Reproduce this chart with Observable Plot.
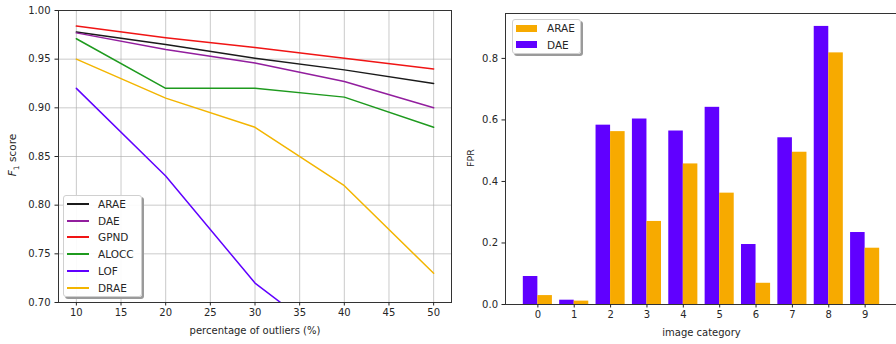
<!DOCTYPE html>
<html>
<head>
<meta charset="utf-8">
<script src="https://cdn.jsdelivr.net/npm/d3@7"></script>
<script src="https://cdn.jsdelivr.net/npm/@observablehq/plot@0.6"></script>
<style>
  html, body { margin: 0; padding: 0; background: #fff; }
  #wrap { position: relative; width: 896px; height: 344px; overflow: hidden; font-family: "DejaVu Sans", sans-serif; }
  #left, #right { position: absolute; top: 0; height: 344px; }
  #left { left: 0; width: 460px; }
  #right { left: 460px; width: 437px; }
  #wrap svg { max-width: none !important; display: block; }
  .legend { position: absolute; background: rgba(255,255,255,0.9); border: 1px solid #d0d0d0; border-radius: 3px; box-shadow: 2px 2px 0 #9a9a9a; font-size: 10.5px; color: #262626; box-sizing: border-box; }
  .legend .row { position: absolute; left: 0; display: flex; align-items: center; height: 14px; }
  .legend .sw { display: inline-block; }
</style>
</head>
<body>
<div id="wrap">
  <div id="left"></div>
  <div id="right"></div>
</div>
<script>
// ---- Left chart data (F1 score vs percentage of outliers) ----
const pct = [10, 20, 30, 40, 50];
const methods = ["ARAE", "DAE", "GPND", "ALOCC", "LOF", "DRAE"];
const f1ARAE  = [0.978, 0.965, 0.951, 0.939, 0.925];
const f1DAE   = [0.977, 0.960, 0.946, 0.927, 0.900];
const f1GPND  = [0.984, 0.972, 0.962, 0.951, 0.940];
const f1ALOCC = [0.971, 0.920, 0.920, 0.911, 0.880];
const f1LOF   = [0.920, 0.830, 0.720, 0.650, 0.600];
const f1DRAE  = [0.950, 0.910, 0.880, 0.820, 0.730];
const xTicksLeft = [10, 15, 20, 25, 30, 35, 40, 45, 50];
const yTicksLeft = [0.70, 0.75, 0.80, 0.85, 0.90, 0.95, 1.00];

// ---- Right chart data (FPR per image category) ----
const categories = [0, 1, 2, 3, 4, 5, 6, 7, 8, 9];
const fprDAE  = [0.091, 0.014, 0.583, 0.603, 0.564, 0.641, 0.195, 0.542, 0.904, 0.234];
const fprARAE = [0.029, 0.011, 0.562, 0.270, 0.457, 0.362, 0.069, 0.495, 0.818, 0.183];
const yTicksRight = [0.0, 0.2, 0.4, 0.6, 0.8];
const barSeries = ["ARAE", "DAE"];

// styles
const lineColors = {ARAE: "#1a1a1a", DAE: "#921e9e", GPND: "#f01414", ALOCC: "#1e9a1e", LOF: "#6000ff", DRAE: "#f3b500"};
const barColors = {ARAE: "#f7aa00", DAE: "#6000ff"};

const seriesVals = {ARAE: f1ARAE, DAE: f1DAE, GPND: f1GPND, ALOCC: f1ALOCC, LOF: f1LOF, DRAE: f1DRAE};
const lineRows = methods.flatMap(m => pct.map((p, i) => ({method: m, pct: p, f1: seriesVals[m][i]})));

const baseStyle = {fontFamily: "DejaVu Sans, sans-serif", fontSize: "10px", color: "#262626", background: "white", overflow: "visible"};

const left = Plot.plot({
  width: 460, height: 344,
  marginLeft: 58, marginRight: 9, marginTop: 10, marginBottom: 42,
  style: baseStyle,
  x: {domain: [8, 52]},
  y: {domain: [0.70, 1.00]},
  marks: [
    Plot.gridX(xTicksLeft, {stroke: "#b0b0b0", strokeOpacity: 0.75, strokeWidth: 0.9}),
    Plot.gridY(yTicksLeft, {stroke: "#b0b0b0", strokeOpacity: 0.75, strokeWidth: 0.9}),
    Plot.line(lineRows, {x: "pct", y: "f1", z: "method", stroke: d => lineColors[d.method], strokeWidth: 1.5, clip: true}),
    Plot.frame({stroke: "#333", strokeWidth: 1}),
    Plot.axisX({ticks: xTicksLeft, tickSize: 3.5, tickPadding: 3, label: null, fontSize: 10}),
    Plot.axisY({ticks: yTicksLeft, tickSize: 3.5, tickPadding: 4.5, tickFormat: d3.format(".2f"), label: null, fontSize: 10}),
    Plot.text(["percentage of outliers (%)"], {frameAnchor: "bottom", dy: 28, lineAnchor: "middle", fontSize: 10, fill: "#262626"})
  ]
});
document.getElementById("left").appendChild(left);
// y label with italic F and subscript 1
{
  const svg = d3.select(left);
  const t = svg.append("text")
    .attr("transform", "translate(16,155) rotate(-90)")
    .attr("text-anchor", "middle")
    .attr("font-size", 10.5)
    .attr("fill", "#262626");
  t.append("tspan").attr("font-style", "italic").text("F");
  t.append("tspan").attr("font-size", 7.5).attr("dy", 2.5).text("1");
  t.append("tspan").attr("dy", -2.5).text(" score");
}

// ---- Right chart ----
const barRows = categories.flatMap((c, i) => [
  {series: "DAE", cat: c, v: fprDAE[i], x1: c - 0.4, x2: c},
  {series: "ARAE", cat: c, v: fprARAE[i], x1: c, x2: c + 0.4}
]);

const right = Plot.plot({
  width: 437, height: 344,
  marginLeft: 45, marginRight: 0, marginTop: 13, marginBottom: 40,
  style: baseStyle,
  x: {domain: [-0.89, 9.89]},
  y: {domain: [0, 0.946]},
  marks: [
    Plot.rectY(barRows, {x1: "x1", x2: "x2", y1: 0, y2: "v", fill: d => barColors[d.series]}),
    Plot.frame({stroke: "#333", strokeWidth: 1}),
    Plot.axisX({ticks: categories, tickSize: 3.5, tickPadding: 3, tickFormat: d3.format("d"), label: null, fontSize: 10}),
    Plot.axisY({ticks: yTicksRight, tickSize: 3.5, tickPadding: 4, tickFormat: d3.format(".1f"), label: null, fontSize: 10}),
    Plot.text(["image category"], {frameAnchor: "bottom", dy: 28, lineAnchor: "middle", fontSize: 10, fill: "#262626"})
  ]
});
document.getElementById("right").appendChild(right);
d3.select(right).append("text")
  .attr("transform", "translate(11,158) rotate(-90)")
  .attr("text-anchor", "middle")
  .attr("dominant-baseline", "middle")
  .attr("font-size", 9.5)
  .attr("fill", "#262626")
  .text("FPR");

// ---- Legends ----
const wrap = document.getElementById("wrap");
{
  const lg = document.createElement("div");
  lg.className = "legend";
  Object.assign(lg.style, {left: "63px", top: "195px", width: "79px", height: "102px"});
  methods.forEach((m, i) => {
    const row = document.createElement("div");
    row.className = "row";
    row.style.top = (1 + i * 16.7) + "px";
    const sw = document.createElement("span");
    sw.className = "sw";
    Object.assign(sw.style, {width: "22px", height: "0", borderTop: "2px solid " + lineColors[m], marginLeft: "3px", marginRight: "9px"});
    const tx = document.createElement("span");
    tx.textContent = m;
    row.appendChild(sw); row.appendChild(tx);
    lg.appendChild(row);
  });
  wrap.appendChild(lg);
}
{
  const lg = document.createElement("div");
  lg.className = "legend";
  Object.assign(lg.style, {left: "512px", top: "19px", width: "69px", height: "35px"});
  barSeries.forEach((m, i) => {
    const row = document.createElement("div");
    row.className = "row";
    row.style.top = (1 + i * 16.7) + "px";
    const sw = document.createElement("span");
    sw.className = "sw";
    Object.assign(sw.style, {width: "21px", height: "7px", background: barColors[m], marginLeft: "3px", marginRight: "10px"});
    const tx = document.createElement("span");
    tx.textContent = m;
    row.appendChild(sw); row.appendChild(tx);
    lg.appendChild(row);
  });
  wrap.appendChild(lg);
}
</script>
</body>
</html>
